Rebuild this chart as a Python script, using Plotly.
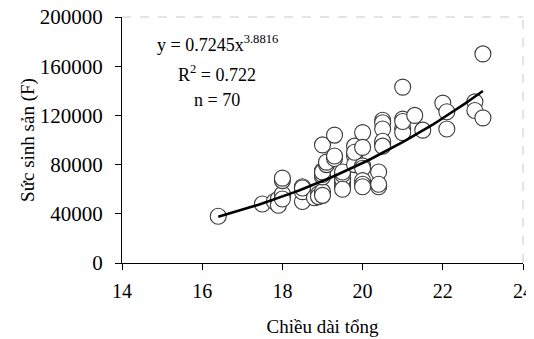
import numpy as np
import plotly.graph_objects as go

# Data (total length vs fecundity)
length = [16.4, 17.5, 17.8, 17.9, 17.9, 18.0, 18.0, 18.0, 18.0, 18.0,
          18.5, 18.5, 18.5, 18.5, 18.8, 18.9, 18.9, 19.0, 19.0, 19.0,
          19.0, 19.0, 19.0, 19.0, 19.1, 19.1, 19.3, 19.3, 19.3, 19.5,
          19.5, 19.5, 19.5, 19.5, 19.5, 19.5, 19.8, 19.8, 19.8, 19.8,
          20.0, 20.0, 20.0, 20.0, 20.0, 20.0, 20.0, 20.4, 20.4, 20.4,
          20.5, 20.5, 20.5, 20.5, 20.5, 20.5, 21.0, 21.0, 21.0, 21.0,
          21.0, 21.3, 21.5, 22.0, 22.1, 22.1, 22.8, 22.8, 23.0, 23.0]
fecundity = [38000, 48000, 50000, 52000, 47000, 54000, 56000, 67000, 69000, 52000,
             62000, 50000, 58000, 61000, 53000, 56000, 54000, 58000, 70000, 72000,
             75000, 96000, 55000, 74000, 80000, 82000, 104000, 85000, 87000, 62000,
             64000, 66000, 68000, 72000, 74000, 60000, 95000, 87000, 80000, 90000,
             106000, 79000, 77000, 67000, 64000, 62000, 94000, 74000, 62000, 64000,
             116000, 114000, 109000, 97000, 99000, 95000, 143000, 117000, 109000, 106000,
             115000, 120000, 108000, 130000, 123000, 109000, 131000, 124000, 170000, 118000]

# Power trendline shown on the chart: y = a * x^b
coef_a = 0.7245
coef_b = 3.8816
equation_text = "y = 0.7245x<sup>3.8816</sup>"
r2_text = "R<sup>2</sup> = 0.722"
n_text = "n = 70"

x_ticks = [14, 16, 18, 20, 22, 24]
y_ticks = [0, 40000, 80000, 120000, 160000, 200000]

trend_x = np.linspace(min(length), max(length), 60)
trend_y = coef_a * trend_x ** coef_b

FONT = "Liberation Serif"

fig = go.Figure()
fig.add_trace(go.Scatter(
    x=length, y=fecundity, mode="markers",
    marker=dict(size=16, color="white", line=dict(color="#3a3a3a", width=1.1)),
    showlegend=False, cliponaxis=False))
fig.add_trace(go.Scatter(
    x=trend_x, y=trend_y, mode="lines",
    line=dict(color="black", width=2.6), showlegend=False))

# dashed light frame top/right
fig.add_shape(type="line", xref="paper", yref="paper", x0=0, x1=1, y0=1, y1=1,
              line=dict(color="#c8c8c8", width=1, dash="dash"))
fig.add_shape(type="line", xref="paper", yref="paper", x0=1, x1=1, y0=0, y1=1,
              line=dict(color="#c8c8c8", width=1, dash="dash"))

# page has an 8px body margin: figure coords = page coords - 8
for txt, yp in [(equation_text, 43), (r2_text, 73), (n_text, 100)]:
    fig.add_annotation(text=txt, xref="paper", yref="paper",
                       x=(217 - 122) / 401, y=(263 - yp) / 246,
                       xanchor="center", yanchor="middle", showarrow=False,
                       font=dict(family=FONT, size=18, color="black"))

fig.update_layout(
    width=526, height=331,
    margin=dict(l=114, r=11, t=9, b=76, autoexpand=False),
    paper_bgcolor="white", plot_bgcolor="white",
    font=dict(family=FONT, color="black"),
)
fig.update_xaxes(range=[14, 24], tickvals=x_ticks, ticktext=[str(v) for v in x_ticks],
                 automargin=False, ticklabeloverflow="allow",
                 showgrid=False, zeroline=False, showline=True, linecolor="black", linewidth=1,
                 ticks="outside", ticklen=6, tickcolor="black", ticklabelstandoff=4,
                 tickfont=dict(family=FONT, size=20),
                 title=dict(text="Chiều dài tổng", font=dict(family=FONT, size=19), standoff=18))
fig.update_yaxes(range=[0, 200000], tickvals=y_ticks, ticktext=[str(v) for v in y_ticks],
                 automargin=False, ticklabeloverflow="allow",
                 showgrid=False, zeroline=False, showline=True, linecolor="black", linewidth=1,
                 ticks="outside", ticklen=6, tickcolor="black", ticklabelstandoff=8,
                 tickfont=dict(family=FONT, size=21),
                 title=dict(text="Sức sinh sản (F)", font=dict(family=FONT, size=19), standoff=0))

fig.write_html("out.html", post_script="document.body.style.overflow='hidden';")
